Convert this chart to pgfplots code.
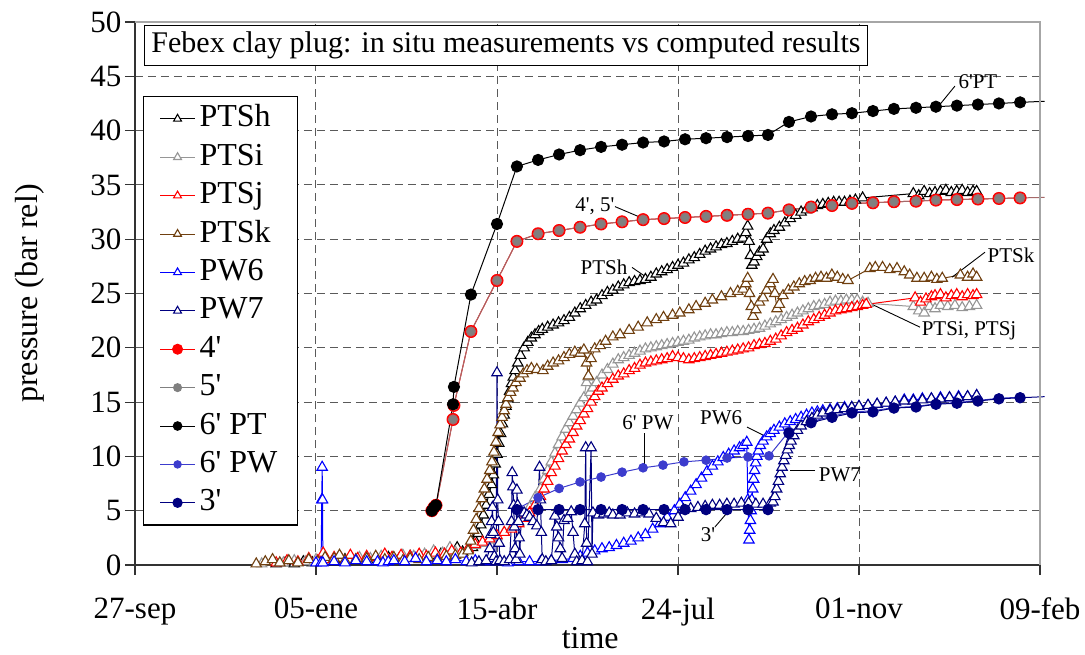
\documentclass[border=0pt]{standalone}
\usepackage{pgfplots}
\pgfplotsset{compat=1.18}
\usepackage{fontspec}
\setmainfont{Liberation Serif}[Ligatures=TeXOff]
\definecolor{cbrown}{RGB}{112,64,16}
\definecolor{cgrey}{RGB}{150,150,150}
\definecolor{cpw}{RGB}{60,60,205}
\definecolor{cnavy}{RGB}{0,0,128}
\definecolor{cfive}{RGB}{128,128,128}
\definecolor{crose}{RGB}{165,105,105}
\definecolor{gridc}{RGB}{90,90,90}
\pgfplotsset{
 meas/.style={mark=triangle*, mark size=6pt, line width=1pt, mark options={fill=white, line width=1.1pt, solid},
   legend image post style={mark size=4.5pt}},
 comp/.style={mark=*, line width=1pt, mark options={solid}},
}
\begin{document}
\begin{tikzpicture}
\path[use as bounding box] (-135pt,-89pt) rectangle (950pt,565pt);
\begin{axis}[
 scale only axis, width=905pt, height=543pt,
 xmin=0, xmax=500, ymin=0, ymax=50,
 clip=false,
 axis x line*=bottom, axis y line*=left,
 axis line style={line width=1.4pt, black!80},
 xtick={0,100,...,500}, xticklabels={27-sep,05-ene,15-abr,24-jul,01-nov,09-feb},
 ytick={0,5,...,50},
 tick align=outside, major tick length=10pt, tick style={line width=1.2pt, black!80},
 grid=major, major grid style={dash pattern=on 8pt off 5pt, line width=1pt, gridc},
 /pgf/number format/assume math mode=true,
 ticklabel style={font=\fontsize{31}{37}\selectfont},
 xticklabel style={yshift=-19pt},
 xlabel={time}, ylabel={pressure (bar rel)},
 xlabel style={font=\fontsize{32}{38}\selectfont, at={(axis description cs:0.503,-0.135)}, anchor=center},
 ylabel style={font=\fontsize{32}{38}\selectfont, at={(axis description cs:-0.116,0.5)}, anchor=center},
 legend image code/.code={\draw[mark repeat=2,mark phase=2,#1] plot coordinates {(0pt,0pt) (17.5pt,0pt) (35pt,0pt)};},
 legend style={at={(rel axis cs:0.0088,0.8637)}, anchor=north west, draw=black, line width=1.2pt, fill=white,
   font=\fontsize{32}{38}\selectfont, inner xsep=16pt, inner ysep=3pt, row sep=0pt, cells={anchor=west},
   nodes={text height=24pt, text depth=8pt, inner ysep=3.2pt, inner xsep=4pt},
   /tikz/every even column/.append style={column sep=4pt}},
]
% PTSh
\addplot[meas, black] coordinates {(78,0.1) (83,0.2) (88,0.1) (93,0.3) (98,0.2) (104,0.4) (110,0.3) (116,0.5) (122,0.4) (128,0.6) (134,0.5) (140,0.7) (146,0.6) (152,0.8) (158,0.7) (164,0.9) (169,1.0) (174,1.2) (178,1.6) (181,1.2) (184,1.4) (186.5,1.6) (188,2.2) (189.5,2.9) (191,3.7) (192.5,4.6) (194,5.5) (195.5,6.5) (197,7.4) (198,8.3) (199,9.3) (200,10.2) (201,11.2) (202,12.1) (203,13.0) (204,13.8) (205,14.6) (206,15.3) (207,16.0) (208,16.7) (209,17.3) (210,17.9) (211.5,18.6) (213,19.3) (215,20.0) (217,20.5) (219,20.9) (221,21.2) (223,21.5) (225,21.7) (228,21.9) (231,22.1) (234,22.3) (237,22.5) (240,22.8) (243,23.2) (246,23.6) (249,23.9) (252,24.2) (255,24.4) (258,24.8) (261,25.1) (264,25.3) (267,25.6) (270,25.8) (273,26.0) (276,26.1) (279,26.2) (282,26.3) (285,26.5) (288,26.8) (291,27.0) (294,27.2) (297,27.4) (300,27.6) (303,27.8) (306,28.1) (309,28.3) (312,28.6) (315,28.9) (318,29.1) (321,29.3) (324,29.5) (327,29.6) (330,29.8) (333,30.0) (336,30.1) (337.5,30.6) (338.5,31.2) (339.3,29.8) (340,28.5) (340.8,27.6) (342,27.9) (343.5,28.4) (345,28.8) (347,29.1) (349,30.0) (351,30.5) (353,30.8) (356,31.1) (359,31.5) (362,31.9) (365,32.2) (368,32.5) (371,32.7) (374,32.9) (377,33.1) (380,33.2) (383,33.3) (386,33.4) (389,33.4) (392,33.4) (395,33.5) (398,33.6) (402,33.8) (430,34.2) (433,34.0) (436,34.4) (439,34.2) (442,34.3) (445,34.4) (448,34.5) (451,34.3) (454,34.4) (457,34.5) (460,34.3) (463,34.4) (465,34.4)};
\addlegendentry{PTSh}
% PTSi
\addplot[meas, cgrey] coordinates {(70,0.1) (76,0.3) (82,0.2) (88,0.4) (94,0.3) (100,0.5) (106,0.4) (112,0.6) (118,0.5) (124,0.7) (130,0.6) (136,0.8) (142,0.7) (148,0.9) (154,0.8) (160,1.0) (165,1.3) (170,1.1) (174,1.6) (177,1.2) (180,1.0) (184,1.5) (188,1.8) (192,2.0) (196,2.3) (200,2.6) (204,3.0) (208,3.4) (212,3.9) (215,4.5) (218,5.3) (221,6.2) (224,7.0) (226,7.9) (228,8.7) (230,9.5) (232,10.3) (234,11.1) (236,11.8) (238,12.5) (240,13.1) (242,13.7) (244,14.3) (246,14.9) (248,15.4) (249.5,16.8) (250.5,17.3) (251.5,15.9) (253,16.3) (255,16.8) (258,17.5) (261,18.0) (264,18.5) (267,18.9) (270,19.1) (273,19.3) (276,19.5) (279,19.7) (282,19.9) (285,20.0) (288,20.1) (291,20.2) (294,20.3) (297,20.4) (300,20.5) (303,20.6) (306,20.7) (309,20.9) (312,21.0) (315,21.1) (318,21.2) (321,21.2) (324,21.3) (327,21.4) (330,21.4) (333,21.5) (336,21.5) (339,21.6) (342,21.7) (345,21.8) (348,22.0) (351,22.2) (354,22.4) (357,22.6) (360,22.8) (363,23.0) (366,23.2) (369,23.4) (372,23.6) (375,23.8) (378,23.9) (381,24.0) (384,24.2) (387,24.3) (390,24.3) (393,24.4) (396,24.4) (399,24.4) (402,24.2) (405,24.1) (430,23.8) (433,23.4) (436,23.2) (439,23.8) (442,23.6) (445,23.9) (449,23.8) (453,23.9) (457,23.7) (461,23.8) (465,23.9)};
\addlegendentry{PTSi}
% PTSj
\addplot[meas, red] coordinates {(78,0.2) (84,0.4) (90,0.3) (96,0.6) (101,0.4) (104,1.1) (106,0.5) (110,0.7) (114,0.6) (119,0.9) (123,0.6) (128,0.8) (133,0.7) (138,1.0) (142,0.7) (147,0.9) (152,0.8) (157,1.0) (161,0.8) (166,1.1) (171,1.0) (175,1.3) (180,1.1) (184,1.5) (188,1.9) (192,2.1) (196,2.4) (200,2.7) (204,3.0) (208,3.3) (212,3.8) (215,4.3) (218,4.8) (221,5.5) (224,6.3) (226,7.0) (228,7.7) (230,8.5) (232,9.1) (234,9.8) (236,10.5) (238,11.1) (240,11.6) (242,12.2) (244,12.8) (246,13.3) (248,13.9) (250,14.4) (252,15.0) (254,15.5) (256,16.0) (258,16.3) (261,16.7) (264,17.1) (267,17.4) (270,17.6) (273,17.9) (276,18.1) (279,18.4) (282,18.6) (285,18.7) (288,18.8) (291,18.9) (294,19.0) (297,19.2) (300,19.1) (303,19.0) (306,18.9) (309,19.0) (312,19.1) (315,19.2) (318,19.3) (321,19.4) (324,19.5) (327,19.6) (330,19.7) (333,19.8) (336,19.9) (339,20.0) (342,20.2) (345,20.3) (348,20.4) (351,20.6) (354,20.8) (357,21.1) (360,21.4) (363,21.6) (366,21.8) (369,22.1) (372,22.4) (375,22.6) (378,22.8) (381,23.0) (384,23.2) (387,23.4) (390,23.5) (393,23.6) (396,23.7) (399,23.8) (402,23.9) (404,24.0) (431,24.6) (434,24.2) (437,24.5) (440,24.7) (442,24.8) (445,24.9) (448,24.6) (451,24.8) (454,24.9) (457,24.7) (460,24.9) (463,24.8) (465,24.9)};
\addlegendentry{PTSj}
% PTSk
\addplot[meas, cbrown] coordinates {(67,0.1) (72,0.3) (76,0.5) (80,0.2) (85,0.4) (90,0.2) (96,0.5) (101,0.3) (105,0.7) (110,0.6) (113,0.9) (116,0.4) (122,0.5) (128,0.6) (133,0.8) (138,0.5) (143,0.7) (148,0.4) (152,0.6) (157,0.5) (162,0.7) (167,0.5) (172,0.8) (177,0.9) (181,1.0) (184,1.3) (185.5,2.2) (187,3.2) (188.5,4.2) (190,5.2) (191.5,6.1) (193,7.0) (194.5,7.9) (196,8.7) (197.2,9.5) (198.3,10.4) (199.4,11.3) (200.6,12.2) (201.7,12.9) (202.8,13.6) (204,14.2) (205,14.8) (206.1,15.4) (207.5,15.9) (208.8,16.3) (210.5,16.8) (212.7,17.2) (214.5,17.6) (216.6,17.9) (219,18.1) (222,18.0) (225.4,17.9) (228,18.3) (231,18.6) (234,18.8) (237,19.1) (240,19.4) (243,19.6) (246,19.5) (248,19.8) (249.5,18.6) (250.5,17.4) (252,19.0) (254,19.9) (257,20.2) (260,20.6) (264,21.0) (268,21.2) (273,21.6) (278,21.9) (283,22.3) (288,22.6) (292,22.8) (297,23.0) (301,23.2) (306,23.5) (310,23.8) (315,24.1) (319,24.4) (324,24.7) (329,25.0) (333,25.2) (336,25.4) (337.5,25.9) (338.5,26.4) (339.5,25.0) (340.5,23.8) (341.5,22.9) (343,23.5) (345,24.2) (347,24.6) (349,25.3) (351,25.9) (352.5,26.3) (353.5,25.0) (354.7,23.6) (356,24.0) (358,24.8) (361,25.3) (364,25.6) (367,25.9) (370,26.1) (373,26.2) (376,26.4) (379,26.5) (382,26.4) (385,26.7) (388,26.5) (391,26.3) (393.9,26.2) (406,27.3) (409,27.4) (413,27.4) (417,27.2) (421,27.3) (425,27.0) (428,26.7) (432,26.4) (436,26.4) (440,26.5) (443,26.3) (446,26.4) (456,26.7) (460,26.5) (463,26.8) (465,26.5)};
\addlegendentry{PTSk}
% PW6
\addplot[meas, blue] coordinates {(100,0.2) (102.8,0.2) (103.2,6.0) (103.4,9.0) (103.6,6.0) (103.8,0.2) (110,0.3) (116,0.2) (122,0.4) (128,0.3) (134,0.3) (137,0.2) (140,0.3) (143,0.4) (149,0.3) (155,0.6) (161,0.3) (167,0.4) (172,0.3) (177,0.5) (183,0.3) (188,0.4) (194,0.3) (200,0.3) (206,0.2) (212,0.3) (218,0.3) (224,0.3) (230,0.4) (236,0.5) (242,0.6) (246,0.8) (250,1.1) (254,1.3) (258,1.5) (262,1.6) (266,1.8) (270,2.0) (274,2.2) (278,2.5) (282,2.8) (286,3.3) (290,3.8) (294,4.4) (298,5.0) (301,5.6) (304,6.2) (307,6.8) (310,7.4) (313,8.0) (316,8.6) (319,9.1) (322,9.5) (325,9.9) (328,10.2) (331,10.5) (334,10.8) (336,11.0) (338,11.3) (338.6,6.0) (339.2,2.3) (339.6,3.2) (340.0,4.1) (340.4,5.0) (340.8,6.0) (341.3,7.0) (341.8,7.9) (342.3,8.7) (342.9,9.4) (343.6,10.0) (344.4,10.5) (345.5,11.0) (347,11.4) (349,11.8) (351,12.1) (353,12.4) (356,12.7) (359,13.0) (362,13.2) (365,13.4) (368,13.6) (371,13.8) (374,14.0) (377,14.1) (380,14.2) (384,14.3) (388,14.4) (392,14.5) (396,14.5) (400,14.6) (405,14.7) (410,14.8) (415,14.9) (420,15.0) (425,15.2) (430,15.2) (435,15.3) (440,15.3) (445,15.4) (450,15.4) (455,15.5) (460,15.5) (465,15.6)};
\addlegendentry{PW6}
% PW7
\addplot[meas, cnavy] coordinates {(186,0.2) (190,0.3) (194,0.4) (196,1.5) (196.5,2.8) (197,4.0) (197.5,5.3) (198,3.0) (198.5,0.8) (199.5,0.3) (200,17.7) (200.4,6.0) (200.8,4.0) (201.2,2.0) (201.6,0.4) (204,0.3) (207,0.5) (208,4.0) (208.4,8.5) (208.8,7.2) (209.2,5.5) (209.6,3.5) (210,1.5) (210.5,0.5) (211,6.9) (211.4,5.5) (211.8,4.0) (212.2,2.5) (212.6,1.0) (213.5,4.8) (215,4.8) (216.5,4.6) (218,4.4) (220,4.0) (222,3.6) (223.5,9.0) (224,6.0) (224.5,3.0) (225,0.5) (227,0.3) (230,0.4) (232,4.5) (233,3.5) (234,2.5) (235,1.5) (236,0.6) (237,4.1) (239,4.3) (241,4.9) (242,3.0) (243,1.0) (244,0.3) (247,0.4) (248.5,3.8) (249,10.8) (249.5,2.0) (250,0.3) (252,10.8) (252.5,1.0) (253,4.8) (256,4.6) (259,4.7) (262,4.8) (264,4.6) (268,4.6) (272,4.8) (276,4.7) (280,4.8) (284,4.7) (288,4.3) (292,3.9) (296,3.8) (300,4.4) (303,5.1) (307,5.2) (311,5.3) (315,5.4) (319,5.5) (323,5.5) (327,5.6) (331,5.6) (335,5.7) (339,5.7) (343,5.6) (347,5.6) (351,5.7) (352.5,5.8) (353.5,6.3) (354.5,7.0) (355.5,7.7) (356.5,8.4) (357.5,9.0) (358.5,9.6) (359.5,10.1) (360.5,10.6) (361.5,11.0) (362.5,11.4) (364,11.9) (366,12.4) (368,12.8) (371,13.2) (374,13.5) (377,13.8) (380,14.0) (384,14.2) (388,14.3) (392,14.4) (396,14.5) (400,14.6) (405,14.7) (410,14.8) (415,14.9) (420,15.0) (425,15.1) (430,15.1) (435,15.2) (440,15.3) (445,15.3) (450,15.4) (455,15.4) (460,15.5) (465,15.6)};
\addlegendentry{PW7}
% 4'
\addplot[comp, red, mark size=6pt, mark options={fill=red, draw=red}, legend image post style={mark size=5pt}] coordinates {(164.0,5.0) (165.2,5.3) (166.3,5.5) (175.7,13.4) (176.2,14.7) (185.6,21.5) (200.0,26.2) (211.0,29.8) (222.7,30.5) (234.3,30.8) (245.9,31.1) (257.5,31.4) (269.1,31.6) (280.7,31.8) (292.3,31.9) (303.9,32.0) (315.5,32.1) (327.1,32.2) (338.7,32.3) (349.7,32.4) (361.3,32.7) (373.5,32.96) (385.1,33.1) (396.1,33.3) (407.7,33.35) (419.3,33.45) (431.5,33.5) (442.5,33.6) (454.1,33.65) (465.7,33.7) (477.3,33.75) (489.0,33.8)};
\addlegendentry{4'}
\addplot[forget plot, crose, line width=1pt, mark=*, mark size=4.6pt, mark options={fill=cfive, draw=none}] coordinates {(164.0,5.0) (165.2,5.3) (166.3,5.5) (175.7,13.4) (176.2,14.7) (185.6,21.5) (200.0,26.2) (211.0,29.8) (222.7,30.5) (234.3,30.8) (245.9,31.1) (257.5,31.4) (269.1,31.6) (280.7,31.8) (292.3,31.9) (303.9,32.0) (315.5,32.1) (327.1,32.2) (338.7,32.3) (349.7,32.4) (361.3,32.7) (373.5,32.96) (385.1,33.1) (396.1,33.3) (407.7,33.35) (419.3,33.45) (431.5,33.5) (442.5,33.6) (454.1,33.65) (465.7,33.7) (477.3,33.75) (489.0,33.8)};
\addplot[forget plot, crose, line width=1pt] coordinates {(489.0,33.8) (502.5,33.85)};
\addlegendimage{comp, cfive, mark options={fill=cfive}, mark size=4pt}
\addlegendentry{5'}
% 6' PT
\addplot[comp, black, mark size=5.6pt, mark options={fill=black}, legend image post style={mark size=4.3pt}] coordinates {(164.0,5.0) (165.2,5.3) (166.3,5.5) (175.7,14.8) (176.2,16.4) (185.6,24.9) (200.0,31.4) (211.0,36.7) (222.7,37.3) (234.3,37.8) (245.9,38.2) (257.5,38.5) (269.1,38.7) (280.7,38.9) (292.3,39.0) (303.9,39.2) (315.5,39.3) (327.1,39.4) (338.7,39.5) (349.7,39.6) (361.3,40.8) (373.5,41.3) (385.1,41.5) (396.1,41.6) (407.7,41.8) (419.3,42.0) (431.5,42.1) (442.5,42.2) (454.1,42.3) (465.7,42.4) (477.3,42.5) (489.0,42.6)};
\addlegendentry{6' PT}
\addplot[forget plot, black, line width=1pt] coordinates {(489.0,42.6) (502.5,42.7)};
% 6' PW
\addplot[comp, cpw, mark size=4.3pt, mark options={fill=cpw}, legend image post style={mark size=3.7pt}] coordinates {(211.0,5.15) (222.7,6.2) (234.3,7.05) (245.9,7.65) (257.5,8.1) (269.1,8.55) (280.7,8.95) (291.7,9.2) (303.3,9.5) (315.5,9.65) (327.1,9.85) (338.7,9.95) (350.3,10.05) (361.3,12.3) (373.5,13.2) (385.1,13.7) (396.1,14.1) (407.7,14.2) (419.3,14.5) (431.5,14.6) (442.5,14.85) (454.1,14.95) (465.7,15.15) (477.3,15.35) (489.0,15.45)};
\addlegendentry{6' PW}
% 3'
\addplot[comp, cnavy, mark size=5.2pt, mark options={fill=cnavy}, legend image post style={mark size=4.6pt}] coordinates {(211.0,5.1) (222.7,5.1) (234.3,5.1) (245.9,5.1) (257.5,5.1) (269.1,5.1) (280.7,5.1) (292.3,5.1) (303.9,5.1) (315.5,5.1) (327.1,5.1) (338.7,5.1) (349.7,5.1) (361.3,12.15) (373.5,13.1) (385.1,13.6) (396.1,14.0) (407.7,14.1) (419.3,14.45) (431.5,14.55) (442.5,14.8) (454.1,14.9) (465.7,15.1) (477.3,15.3) (489.0,15.4)};
\addlegendentry{3'}
\addplot[forget plot, cnavy, line width=1pt] coordinates {(489.0,15.4) (502.5,15.5)};
% frame
\draw[gray!70, line width=1.3pt] (rel axis cs:0,1) -- (rel axis cs:1,1) -- (rel axis cs:1,0);
% title
\node[draw=black, line width=1pt, fill=white, anchor=north west, font=\fontsize{30}{36}\selectfont, inner xsep=7pt, text height=21pt, text depth=7pt, inner ysep=6pt] at (rel axis cs:0.0099,0.9945) {Febex clay plug: in situ measurements vs computed results};
% annotations
\begin{scope}[every node/.style={font=\fontsize{21}{25}\selectfont, inner sep=1pt}]
\node at (axis cs:465.7,44.5) {6'PT};
\draw[line width=0.9pt] (axis cs:453,44.1) -- (axis cs:444.2,42.3);
\node at (axis cs:254.1,33.0) {4', 5'};
\draw[line width=0.9pt] (axis cs:265.2,33.0) -- (axis cs:280.1,31.95);
\node at (axis cs:259.1,27.4) {PTSh};
\draw[line width=0.9pt] (axis cs:274.6,27.4) -- (axis cs:283.4,26.4);
\node at (axis cs:484.0,28.5) {PTSk};
\draw[line width=0.9pt] (axis cs:469.6,28.8) -- (axis cs:451.4,26.5);
\node at (axis cs:460.8,21.6) {PTSi, PTSj};
\draw[line width=0.9pt] (axis cs:433.7,21.9) -- (axis cs:407.2,24.0);
\node at (axis cs:283.4,13.1) {6' PW};
\draw[line width=0.9pt] (axis cs:281.2,12.15) -- (axis cs:281.2,9.2);
\node at (axis cs:323.8,13.6) {PW6};
\draw[line width=0.9pt] (axis cs:338.1,12.7) -- (axis cs:351.4,11.6);
\node at (axis cs:389.5,8.3) {PW7};
\draw[line width=0.9pt] (axis cs:375.7,8.75) -- (axis cs:361.9,8.75);
\node at (axis cs:316.6,2.76) {3'};
\draw[line width=0.9pt] (axis cs:320.4,3.5) -- (axis cs:327.6,4.9);
\end{scope}
\end{axis}
\end{tikzpicture}
\end{document}
